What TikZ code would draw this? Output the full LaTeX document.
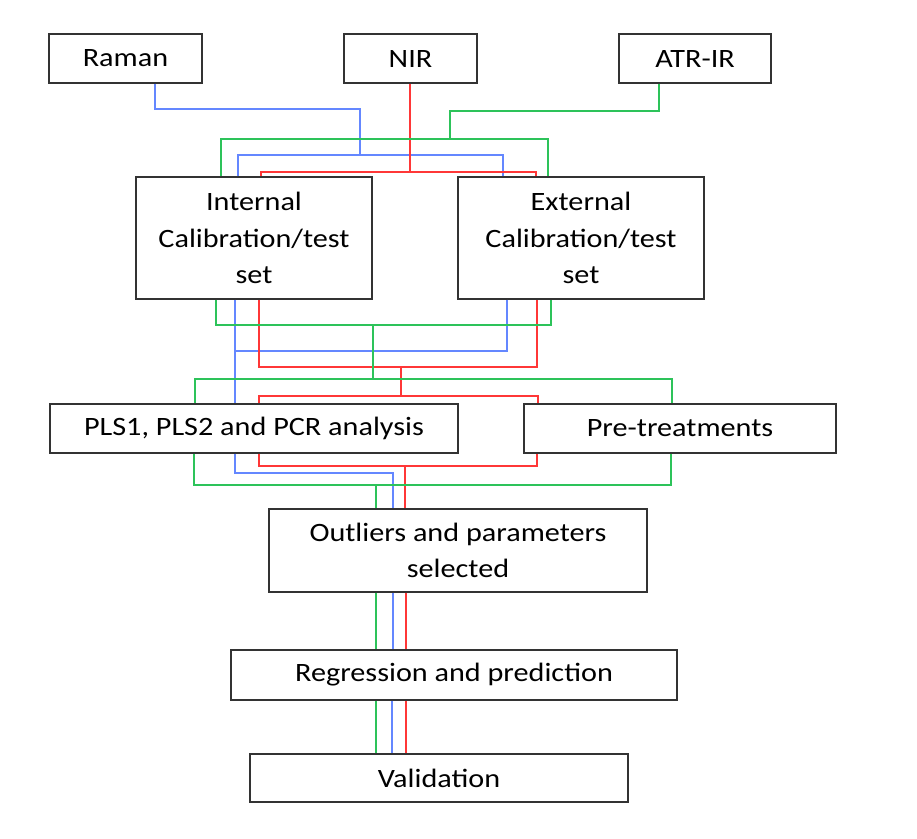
\documentclass[tikz,border=0pt]{standalone}
\usepackage{fontspec}
\setmainfont{Carlito}[FakeStretch=1.14]
\usepackage{tikz}

\definecolor{ramanblue}{RGB}{100,135,255}
\definecolor{nirred}{RGB}{255,55,55}
\definecolor{atrgreen}{RGB}{45,195,90}

\tikzset{
  box/.style={draw=black!80, line width=1.3pt, fill=white, inner sep=0pt,
    align=center, font=\fontsize{26.5}{36.7}\selectfont},
  bl/.style={ramanblue, line width=1.2pt},
  rd/.style={nirred, line width=1.2pt},
  gn/.style={atrgreen, line width=1.2pt}
}

\begin{document}
\begin{tikzpicture}[x=1pt,y=-1pt]
\useasboundingbox (0,0) rectangle (917,838);

% boxes
\node[box, minimum width=153pt, minimum height=49pt] (raman) at (125.5,58.5) {Raman};
\node[box, minimum width=133pt, minimum height=49pt] (nir) at (410.5,58.5) {NIR};
\node[box, minimum width=152pt, minimum height=49pt] (atr) at (695,58.5) {ATR-IR};
\node[box, minimum width=236pt, minimum height=122pt] (intl) at (254,238) {Internal\\Calibration/test\\set};
\node[box, minimum width=246pt, minimum height=122pt] (extl) at (581,238) {External\\Calibration/test\\set};
\node[box, minimum width=408pt, minimum height=49pt] (pls) at (254,428.5) {PLS1, PLS2 and PCR analysis};
\node[box, minimum width=312pt, minimum height=49pt] (pre) at (680,428.5) {Pre-treatments};
\node[box, minimum width=378pt, minimum height=83pt] (outl) at (458,550.5) {Outliers and parameters\\selected};
\node[box, minimum width=446pt, minimum height=50pt] (regr) at (454,675) {Regression and prediction};
\node[box, minimum width=378pt, minimum height=48pt] (valid) at (439,778) {Validation};

% junctions
\coordinate (b1) at (360,155);
\coordinate (b2) at (235,351);
\coordinate (b3) at (393,473);
\coordinate (r1) at (410,172);
\coordinate (r2) at (401,367);
\coordinate (r3) at (401,396);
\coordinate (r4) at (405,466);
\coordinate (g1) at (450,139);
\coordinate (g2) at (373,325);
\coordinate (g3) at (373,379);
\coordinate (g4) at (376,485);

% Raman
\draw[bl] (raman.south -| 155,0) |- (360,109) -- (b1);
\draw[bl] (intl.north -| 238,0) |- (b1) -| (extl.north -| 503,0);
\draw[bl] (intl.south -| 235,0) -- (pls.north -| 235,0);
\draw[bl] (extl.south -| 507,0) |- (b2);
\draw[bl] (pls.south -| 235,0) |- (b3) -- (outl.north -| 393,0);
\draw[bl] (outl.south -| 393,0) -- (regr.north -| 393,0);
\draw[bl] (regr.south -| 392,0) -- (valid.north -| 392,0);

% NIR
\draw[rd] (nir.south -| 410,0) -- (r1);
\draw[rd] (intl.north -| 261,0) |- (r1) -| (extl.north -| 536,0);
\draw[rd] (intl.south -| 259,0) |- (r2) -| (extl.south -| 537,0);
\draw[rd] (r2) -- (r3);
\draw[rd] (pls.north -| 259,0) |- (r3) -| (pre.north -| 538,0);
\draw[rd] (pls.south -| 259,0) |- (r4) -| (pre.south -| 537,0);
\draw[rd] (r4) -- (outl.north -| 405,0);
\draw[rd] (outl.south -| 406,0) -- (regr.north -| 406,0);
\draw[rd] (regr.south -| 406,0) -- (valid.north -| 406,0);

% ATR-IR
\draw[gn] (atr.south -| 659,0) |- (450,111) -- (g1);
\draw[gn] (intl.north -| 221,0) |- (g1) -| (extl.north -| 548,0);
\draw[gn] (intl.south -| 216,0) |- (g2) -| (extl.south -| 551,0);
\draw[gn] (g2) -- (g3);
\draw[gn] (pls.north -| 195,0) |- (g3) -| (pre.north -| 672,0);
\draw[gn] (pls.south -| 194,0) |- (g4) -| (pre.south -| 671,0);
\draw[gn] (g4) -- (outl.north -| 376,0);
\draw[gn] (outl.south -| 376,0) -- (regr.north -| 376,0);
\draw[gn] (regr.south -| 376,0) -- (valid.north -| 376,0);
\end{tikzpicture}
\end{document}
